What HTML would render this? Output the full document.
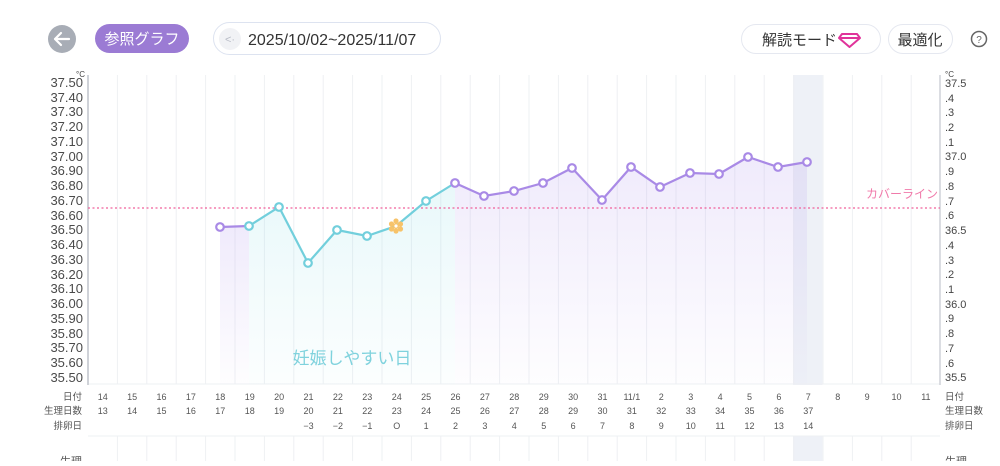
<!DOCTYPE html>
<html><head><meta charset="utf-8"><style>
body{margin:0;background:#fff;width:1000px;height:461px;overflow:hidden;font-family:"Liberation Sans","Noto Sans CJK JP",sans-serif}
</style></head><body>
<svg width="1000" height="461" xmlns="http://www.w3.org/2000/svg" font-family="Liberation Sans, Noto Sans CJK JP, sans-serif">
<defs>
<linearGradient id="gp" x1="0" y1="0" x2="0" y2="1"><stop offset="0" stop-color="#b9a2ee" stop-opacity="0.22"/><stop offset="1" stop-color="#b9a2ee" stop-opacity="0.02"/></linearGradient>
<linearGradient id="gt" x1="0" y1="0" x2="0" y2="1"><stop offset="0" stop-color="#8fdde6" stop-opacity="0.2"/><stop offset="1" stop-color="#8fdde6" stop-opacity="0.03"/></linearGradient>
</defs>
<!-- header -->
<circle cx="62" cy="39" r="14" fill="#a8adb6"/>
<path d="M69 39H55M61 33l-6 6 6 6" stroke="#fff" stroke-width="2.2" fill="none" stroke-linecap="round" stroke-linejoin="round"/>
<rect x="95" y="24" width="94" height="29" rx="14.5" fill="#9b7bd4"/>
<text x="142" y="44" font-size="15" fill="#fff" text-anchor="middle">参照グラフ</text>
<rect x="213.5" y="22.5" width="227" height="32" rx="16" fill="#fff" stroke="#dde3f0"/>
<circle cx="230" cy="39" r="11" fill="#f1f2f5"/>
<text x="230" y="43" font-size="11" fill="#b8bcc6" text-anchor="middle">&lt;·</text>
<text x="248" y="45" font-size="16" fill="#333">2025/10/02~2025/11/07</text>
<rect x="741.5" y="24.5" width="139" height="29" rx="14.5" fill="#fff" stroke="#e5e8f0"/>
<text x="762" y="45" font-size="15" fill="#333">解読モード</text>
<path d="M842 34h15l3 4-10.5 9-10.5-9z M839 38h21" stroke="#e0339a" stroke-width="2" fill="none" stroke-linejoin="round"/>
<rect x="888.5" y="24.5" width="64" height="29" rx="14.5" fill="#fff" stroke="#e5e8f0"/>
<text x="920" y="45" font-size="15" fill="#333" text-anchor="middle">最適化</text>
<circle cx="979" cy="39" r="7.5" fill="none" stroke="#666" stroke-width="1.5"/>
<text x="979" y="43" font-size="10" fill="#666" text-anchor="middle">?</text>
<!-- highlight column -->
<rect x="793" y="75" width="29.4" height="310" fill="#eef1f7"/>
<rect x="793" y="436" width="29.4" height="25" fill="#eef1f7"/>
<!-- grid -->
<g stroke="#eef0f3" stroke-width="1">
<line x1="117.4" y1="75" x2="117.4" y2="384"/><line x1="146.8" y1="75" x2="146.8" y2="384"/><line x1="176.2" y1="75" x2="176.2" y2="384"/><line x1="205.6" y1="75" x2="205.6" y2="384"/><line x1="235" y1="75" x2="235" y2="384"/><line x1="264.4" y1="75" x2="264.4" y2="384"/><line x1="293.8" y1="75" x2="293.8" y2="384"/><line x1="323.2" y1="75" x2="323.2" y2="384"/><line x1="352.6" y1="75" x2="352.6" y2="384"/><line x1="382" y1="75" x2="382" y2="384"/><line x1="411.4" y1="75" x2="411.4" y2="384"/><line x1="440.8" y1="75" x2="440.8" y2="384"/><line x1="470.2" y1="75" x2="470.2" y2="384"/><line x1="499.6" y1="75" x2="499.6" y2="384"/><line x1="529" y1="75" x2="529" y2="384"/><line x1="558.4" y1="75" x2="558.4" y2="384"/><line x1="587.8" y1="75" x2="587.8" y2="384"/><line x1="617.2" y1="75" x2="617.2" y2="384"/><line x1="646.6" y1="75" x2="646.6" y2="384"/><line x1="676" y1="75" x2="676" y2="384"/><line x1="705.4" y1="75" x2="705.4" y2="384"/><line x1="734.8" y1="75" x2="734.8" y2="384"/><line x1="764.2" y1="75" x2="764.2" y2="384"/><line x1="793.6" y1="75" x2="793.6" y2="384"/><line x1="823" y1="75" x2="823" y2="384"/><line x1="852.4" y1="75" x2="852.4" y2="384"/><line x1="881.8" y1="75" x2="881.8" y2="384"/><line x1="911.2" y1="75" x2="911.2" y2="384"/>
<line x1="88" y1="436" x2="940" y2="436"/>
<line x1="117.4" y1="436" x2="117.4" y2="461"/><line x1="146.8" y1="436" x2="146.8" y2="461"/><line x1="176.2" y1="436" x2="176.2" y2="461"/><line x1="205.6" y1="436" x2="205.6" y2="461"/><line x1="235" y1="436" x2="235" y2="461"/><line x1="264.4" y1="436" x2="264.4" y2="461"/><line x1="293.8" y1="436" x2="293.8" y2="461"/><line x1="323.2" y1="436" x2="323.2" y2="461"/><line x1="352.6" y1="436" x2="352.6" y2="461"/><line x1="382" y1="436" x2="382" y2="461"/><line x1="411.4" y1="436" x2="411.4" y2="461"/><line x1="440.8" y1="436" x2="440.8" y2="461"/><line x1="470.2" y1="436" x2="470.2" y2="461"/><line x1="499.6" y1="436" x2="499.6" y2="461"/><line x1="529" y1="436" x2="529" y2="461"/><line x1="558.4" y1="436" x2="558.4" y2="461"/><line x1="587.8" y1="436" x2="587.8" y2="461"/><line x1="617.2" y1="436" x2="617.2" y2="461"/><line x1="646.6" y1="436" x2="646.6" y2="461"/><line x1="676" y1="436" x2="676" y2="461"/><line x1="705.4" y1="436" x2="705.4" y2="461"/><line x1="734.8" y1="436" x2="734.8" y2="461"/><line x1="764.2" y1="436" x2="764.2" y2="461"/><line x1="793.6" y1="436" x2="793.6" y2="461"/><line x1="823" y1="436" x2="823" y2="461"/><line x1="852.4" y1="436" x2="852.4" y2="461"/><line x1="881.8" y1="436" x2="881.8" y2="461"/><line x1="911.2" y1="436" x2="911.2" y2="461"/>
<line x1="88" y1="384" x2="940" y2="384"/>
</g>
<line x1="88" y1="75" x2="88" y2="385" stroke="#cfd2d8" stroke-width="2"/>
<line x1="940" y1="75" x2="940" y2="385" stroke="#cfd2d8" stroke-width="1.5"/>
<!-- fills -->
<path d="M220 227L249 226V384H220Z" fill="url(#gp)"/>
<path d="M249 226L279 207L308 263L337 230L367 236L396 226L426 201L455 183V384H249Z" fill="url(#gt)"/>
<path d="M455 183L484 196L514 191L543 183L572 168L602 200L631 167L660 187L690 173L719 174L748 157L778 167L807 162V384H455Z" fill="url(#gp)"/>
<!-- cover line -->
<line x1="88" y1="208" x2="940" y2="208" stroke="#f0609a" stroke-width="1.3" stroke-dasharray="2,2.5"/>
<text x="938" y="198" font-size="12" fill="#f07aaa" text-anchor="end">カバーライン</text>
<!-- lines -->
<polyline points="220,227 249,226" fill="none" stroke="#a98ae6" stroke-width="2.2"/>
<polyline points="249,226 279,207 308,263 337,230 367,236 396,226 426,201 455,183" fill="none" stroke="#72cfdc" stroke-width="2.2"/>
<polyline points="455,183 484,196 514,191 543,183 572,168 602,200 631,167 660,187 690,173 719,174 748,157 778,167 807,162" fill="none" stroke="#a98ae6" stroke-width="2.2"/>
<g fill="#fff" stroke-width="2.2" stroke="#72cfdc">
<circle cx="249" cy="226" r="3.8"/><circle cx="279" cy="207" r="3.8"/><circle cx="308" cy="263" r="3.8"/><circle cx="337" cy="230" r="3.8"/><circle cx="367" cy="236" r="3.8"/><circle cx="426" cy="201" r="3.8"/>
</g>
<g fill="#fff" stroke-width="2.2" stroke="#a98ae6">
<circle cx="220" cy="227" r="3.8"/><circle cx="455" cy="183" r="3.8"/><circle cx="484" cy="196" r="3.8"/><circle cx="514" cy="191" r="3.8"/><circle cx="543" cy="183" r="3.8"/><circle cx="572" cy="168" r="3.8"/><circle cx="602" cy="200" r="3.8"/><circle cx="631" cy="167" r="3.8"/><circle cx="660" cy="187" r="3.8"/><circle cx="690" cy="173" r="3.8"/><circle cx="719" cy="174" r="3.8"/><circle cx="748" cy="157" r="3.8"/><circle cx="778" cy="167" r="3.8"/><circle cx="807" cy="162" r="3.8"/>
</g>
<g fill="#f7c36a"><circle cx="396" cy="221" r="2.6"/><circle cx="400.5" cy="224" r="2.6"/><circle cx="400.5" cy="229" r="2.6"/><circle cx="396" cy="231" r="2.6"/><circle cx="391.5" cy="229" r="2.6"/><circle cx="391.5" cy="224" r="2.6"/><circle cx="396" cy="226" r="3"/></g>
<circle cx="396" cy="226" r="1.6" fill="#fff"/>
<text x="352" y="364" font-size="17" fill="#7fd2dd" text-anchor="middle">妊娠しやすい日</text>
<!-- left y labels -->
<g font-size="13" fill="#4a4a4a" text-anchor="end">
<text x="83" y="87">37.50</text><text x="83" y="102">37.40</text><text x="83" y="116">37.30</text><text x="83" y="131">37.20</text><text x="83" y="146">37.10</text><text x="83" y="161">37.00</text><text x="83" y="175">36.90</text><text x="83" y="190">36.80</text><text x="83" y="205">36.70</text><text x="83" y="220">36.60</text><text x="83" y="234">36.50</text><text x="83" y="249">36.40</text><text x="83" y="264">36.30</text><text x="83" y="279">36.20</text><text x="83" y="293">36.10</text><text x="83" y="308">36.00</text><text x="83" y="323">35.90</text><text x="83" y="338">35.80</text><text x="83" y="352">35.70</text><text x="83" y="367">35.60</text><text x="83" y="382">35.50</text>
</g>
<text x="76" y="77" font-size="8" fill="#444">°C</text>
<g font-size="11" fill="#444">
<text x="945" y="77" font-size="8">°C</text>
<text x="945" y="87">37.5</text><text x="945" y="102">.4</text><text x="945" y="116">.3</text><text x="945" y="131">.2</text><text x="945" y="146">.1</text><text x="945" y="160">37.0</text><text x="945" y="175">.9</text><text x="945" y="190">.8</text><text x="945" y="205">.7</text><text x="945" y="219">.6</text><text x="945" y="234">36.5</text><text x="945" y="249">.4</text><text x="945" y="264">.3</text><text x="945" y="278">.2</text><text x="945" y="293">.1</text><text x="945" y="308">36.0</text><text x="945" y="322">.9</text><text x="945" y="337">.8</text><text x="945" y="352">.7</text><text x="945" y="367">.6</text><text x="945" y="381">35.5</text>
</g>
<!-- bottom table -->
<g font-size="9.5" fill="#555" text-anchor="end">
<text x="82" y="400">日付</text><text x="82" y="414">生理日数</text><text x="82" y="429">排卵日</text>
</g>
<g font-size="9.5" fill="#555">
<text x="945" y="400">日付</text><text x="945" y="414">生理日数</text><text x="945" y="429">排卵日</text>
</g>
<g font-size="9" fill="#555" text-anchor="middle">
<text x="102.7" y="400">14</text><text x="132.1" y="400">15</text><text x="161.5" y="400">16</text><text x="190.9" y="400">17</text><text x="220.3" y="400">18</text><text x="249.7" y="400">19</text><text x="279.1" y="400">20</text><text x="308.5" y="400">21</text><text x="337.9" y="400">22</text><text x="367.3" y="400">23</text><text x="396.7" y="400">24</text><text x="426.1" y="400">25</text><text x="455.5" y="400">26</text><text x="484.9" y="400">27</text><text x="514.3" y="400">28</text><text x="543.7" y="400">29</text><text x="573.1" y="400">30</text><text x="602.5" y="400">31</text><text x="631.9" y="400">11/1</text><text x="661.3" y="400">2</text><text x="690.7" y="400">3</text><text x="720.1" y="400">4</text><text x="749.5" y="400">5</text><text x="778.9" y="400">6</text><text x="808.3" y="400">7</text><text x="837.7" y="400">8</text><text x="867.1" y="400">9</text><text x="896.5" y="400">10</text><text x="925.9" y="400">11</text>
<text x="102.7" y="414">13</text><text x="132.1" y="414">14</text><text x="161.5" y="414">15</text><text x="190.9" y="414">16</text><text x="220.3" y="414">17</text><text x="249.7" y="414">18</text><text x="279.1" y="414">19</text><text x="308.5" y="414">20</text><text x="337.9" y="414">21</text><text x="367.3" y="414">22</text><text x="396.7" y="414">23</text><text x="426.1" y="414">24</text><text x="455.5" y="414">25</text><text x="484.9" y="414">26</text><text x="514.3" y="414">27</text><text x="543.7" y="414">28</text><text x="573.1" y="414">29</text><text x="602.5" y="414">30</text><text x="631.9" y="414">31</text><text x="661.3" y="414">32</text><text x="690.7" y="414">33</text><text x="720.1" y="414">34</text><text x="749.5" y="414">35</text><text x="778.9" y="414">36</text><text x="808.3" y="414">37</text>
<text x="308.5" y="429">−3</text><text x="337.9" y="429">−2</text><text x="367.3" y="429">−1</text><text x="396.7" y="429">O</text><text x="426.1" y="429">1</text><text x="455.5" y="429">2</text><text x="484.9" y="429">3</text><text x="514.3" y="429">4</text><text x="543.7" y="429">5</text><text x="573.1" y="429">6</text><text x="602.5" y="429">7</text><text x="631.9" y="429">8</text><text x="661.3" y="429">9</text><text x="690.7" y="429">10</text><text x="720.1" y="429">11</text><text x="749.5" y="429">12</text><text x="778.9" y="429">13</text><text x="808.3" y="429">14</text>
</g>
<text x="82" y="465" font-size="11" fill="#555" text-anchor="end">生理</text>
<text x="945" y="465" font-size="11" fill="#555">生理</text>
</svg>
</body></html>
